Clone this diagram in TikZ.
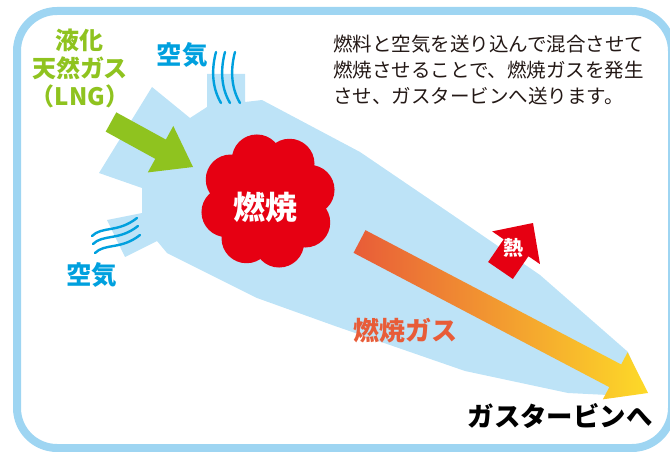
\documentclass[tikz,border=0pt]{standalone}
\usepackage{fontspec}
\newfontfamily\jpfont{Noto Sans CJK JP}
\usetikzlibrary{calc}

\definecolor{frameblue}{RGB}{158,213,242}
\definecolor{bodyblue}{RGB}{189,227,247}
\definecolor{airblue}{RGB}{0,160,222}
\definecolor{lnggreen}{RGB}{143,195,31}
\definecolor{flamered}{RGB}{230,0,18}
\definecolor{gasorange}{RGB}{232,92,56}
\definecolor{gasyellow}{RGB}{253,218,40}
\definecolor{textgray}{RGB}{35,24,21}

% block arrow: #1 style, #2 tail, #3 tip, #4 half shaft, #5 half head, #6 head length
\newcommand{\fatarrow}[6]{%
  \coordinate (hb) at ($(#3)!#6!(#2)$);
  \path[#1] ($(#2)!#4!90:(#3)$) -- ($(hb)!#4!90:(#3)$) -- ($(hb)!#5!90:(#3)$)
    -- (#3) -- ($(hb)!#5!-90:(#3)$) -- ($(hb)!#4!-90:(#3)$) -- ($(#2)!#4!-90:(#3)$) -- cycle;
}

\begin{document}
\begin{tikzpicture}[x=1pt, y=-1pt,
    lbl/.style={inner sep=0pt},
    wave/.style={airblue, line width=2.4pt, line cap=round}]

    \useasboundingbox (0,0) rectangle (670,452);

    % --- FRAME ---
    \draw[frameblue, line width=8pt, rounded corners=40pt] (17,11) rectangle (672,448);

    % --- COMBUSTOR BODY ---
    \fill[bodyblue] (152,87) -- (190,118) -- (207,107) -- (207,74) -- (245,74) -- (245,102)
        -- (262,100) -- (360,152) -- (460,220) -- (540,275) -- (628,352) -- (640,380)
        -- (608,395) -- (568,393) -- (465,371) -- (335,326) -- (257,298) -- (167,253)
        -- (157,241) -- (125,257) -- (107,220) -- (142,213) -- (142,188) -- (99,173) -- cycle;

    % --- AIR STREAMS ---
    % top inlet
    \foreach \dx in {0,9,19}
        \draw[wave] ({216+\dx},52) .. controls ({212+\dx},67) and ({211+\dx},86) .. ({221+\dx},103);
    % lower inlet
    \foreach \dx/\dy in {0/0, 1/8, 3/17}
        \draw[wave] ({92+\dx},{236+\dy}) .. controls ({102+\dx},{226+\dy}) and ({118+\dx},{233+\dy}) .. ({137+\dx},{218+\dy});

    % --- FLAME ---
    \coordinate (F) at (268,201);
    \fill[flamered] (F) circle (45pt);
    \foreach \a in {30,75,...,345}
        \fill[flamered] ($(F)+(\a:43)$) circle (25pt);

    % --- ARROWS ---
    \coordinate (LNGtail) at (111,122);
    \coordinate (LNGtip) at (193,167);
    \fatarrow{fill=lnggreen}{LNGtail}{LNGtip}{11pt}{26.5pt}{37pt}

    \coordinate (Gtail) at (359.5,241.5);
    \coordinate (Gtip) at (648,393);
    \fatarrow{left color=gasorange, right color=gasyellow}{Gtail}{Gtip}{12.8pt}{26.6pt}{37pt}

    \coordinate (Htail) at (500.5,270.5);
    \coordinate (Htip) at (533,223);
    \fatarrow{fill=flamered}{Htail}{Htip}{15pt}{29pt}{30pt}

    % --- LABELS ---
    \node[lbl, align=center, text=lnggreen, font=\jpfont\bfseries\fontsize{24}{28}\selectfont]
        (lng) at (80,68) {液化\\天然ガス\\（LNG）};
    \node[lbl, text=airblue, font=\jpfont\bfseries\fontsize{25.5}{30}\selectfont] (airtop) at (182,55) {空気};
    \node[lbl, text=airblue, font=\jpfont\bfseries\fontsize{25.5}{30}\selectfont] (airbot) at (92,275) {空気};
    \node[lbl, text=white, font=\jpfont\bfseries\fontsize{32}{36}\selectfont] (burn) at (265,207) {燃焼};
    \node[lbl, text=white, font=\jpfont\bfseries\fontsize{20}{24}\selectfont] (heat) at (513,248) {熱};
    \node[lbl, text=gasorange, font=\jpfont\bfseries\fontsize{26}{30}\selectfont] (gas) at (405,331) {燃焼ガス};
    \node[lbl, text=black, font=\jpfont\bfseries\fontsize{26.4}{30}\selectfont] (turbine) at (560,416) {ガスタービンへ};

    \node[lbl, anchor=north west, align=left, text=textgray, font=\jpfont\fontsize{19.5}{26}\selectfont]
        (desc) at (333,35) {燃料と空気を送り込んで混合させて\\燃焼させることで、燃焼ガスを発生\\させ、ガスタービンへ送ります。};

\end{tikzpicture}
\end{document}
